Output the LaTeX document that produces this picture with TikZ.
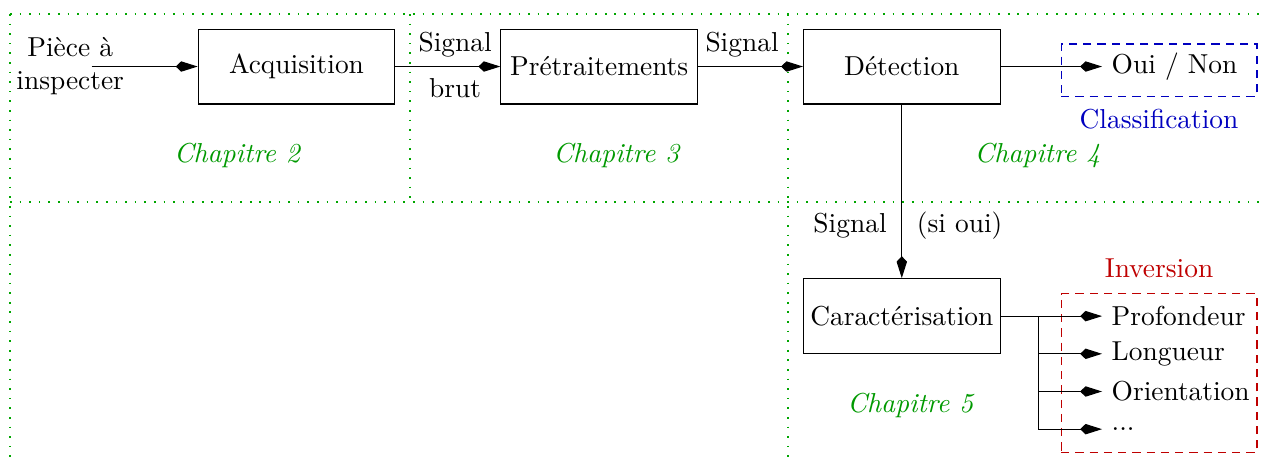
\documentclass[tikz,border=0pt]{standalone}
\usetikzlibrary{arrows.meta,positioning}
\begin{document}
\begin{tikzpicture}[node distance=3.88cm, >={Kite[length=8pt,width=3.8pt,inset=2pt]}]
	\tikzstyle{block} = [rectangle, draw, inner xsep=1.5pt, minimum width=2.52cm, minimum height=0.96cm]
	\tikzstyle{chap} = [text=green!60!black, font=\itshape]
	\tikzstyle{zone} = [draw=green!65!black, dash pattern=on 0.6pt off 2.9pt]
	\tikzstyle{item} = [text width=1.75cm, align=left]
	\tikzstyle{classif} = [draw=blue!75!black, dash pattern=on 3pt off 2.2pt, minimum width=2.51cm, minimum height=0.667cm]
	\tikzstyle{inversion} = [draw=red!75!black, dash pattern=on 3pt off 2.2pt, minimum width=2.51cm, minimum height=2.03cm]
	
	\useasboundingbox (-3.801,-5.006) rectangle (12.365,0.853);
	
	\draw[zone] (-3.673,0.673) -- (12.365,0.673);
	\draw[zone] (-3.673,-1.737) -- (12.365,-1.737);
	\draw[zone] (-3.673,0.673) -- (-3.673,-5.006);
	\draw[zone] (1.455,0.673) -- (1.455,-1.737);
	\draw[zone] (6.301,0.673) -- (6.301,-5.006);
	
	\node[block] (acq) {Acquisition};
	\node[block] (pretrait) [right of=acq] {Prétraitements};
	\node[block] (detect) [right of=pretrait] {Détection};
	\node[block] (carac) [below of=detect, node distance=3.2cm] {Caractérisation};
	
	\node[align=center] (piece) [left=0.82cm of acq] {Pièce à\\inspecter};
	\coordinate[left=1.36cm of acq] (entree);
	
	\node (ouinon) [right=1.3cm of detect] {Oui / Non};
	\node[classif] (classbox) at (11.058,-0.045) {};
	\node[text=blue!75!black] (classif) [below=1pt of classbox] {Classification};
	
	\node[item] (prof) [right=1.3cm of carac] {Profondeur};
	\node[item] (long) [below of=prof, node distance=0.483cm] {Longueur};
	\node[item] (orient) [below of=long, node distance=0.483cm] {Orientation};
	\node[item] (autre) [below of=orient, node distance=0.483cm] {...};
	\coordinate[right=0.49cm of carac] (branche);
	\node[inversion] (invbox) at (11.058,-3.929) {};
	\node[text=red!75!black] (inversion) [above=2pt of invbox] {Inversion};
	
	\node[chap] (chap2) at (-0.763,-1.135) {Chapitre 2};
	\node[chap] (chap3) at (4.10,-1.135) {Chapitre 3};
	\node[chap] (chap4) at (9.50,-1.135) {Chapitre 4};
	\node[chap] (chap5) at (7.87,-4.35) {Chapitre 5};
	
	\draw[->] (entree) -- (acq);
	\draw[->] (acq) -- node[above, pos=0.57] (sigbrut) {Signal} node[below=1pt, pos=0.57] (brut) {brut} (pretrait);
	\draw[->] (pretrait) -- node[above, pos=0.42] (sigtrait) {Signal} (detect);
	\draw[->] (detect) -- (ouinon);
	\draw[->] (detect) -- node[left=2pt, pos=0.695] (sigdef) {Signal} node[right=2pt, pos=0.695] (sioui) {(si oui)} (carac);
	\draw[->] (carac) -- (prof);
	\draw[->] (branche) |- (long);
	\draw[->] (branche) |- (orient);
	\draw[->] (branche) |- (autre);
\end{tikzpicture}
\end{document}
